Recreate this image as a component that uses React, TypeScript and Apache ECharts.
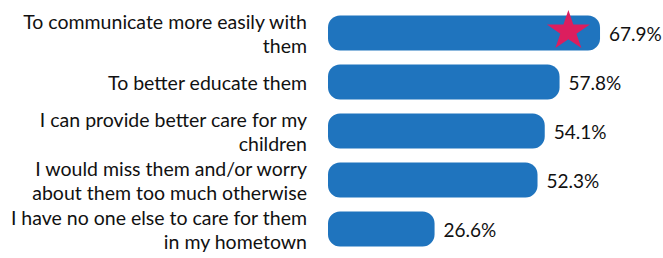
import React, { useEffect, useRef } from "react";
import * as echarts from "echarts";

const categories = [
  "To communicate more easily with\nthem",
  "To better educate them",
  "I can provide better care for my\nchildren",
  "I would miss them and/or worry\nabout them too much otherwise",
  "I have no one else to care for them\nin my hometown",
];
const values = [67.9, 57.8, 54.1, 52.3, 26.6];
const starPoint = [[60.0, 0]];

const STAR = "path://M50,0 L61,35 L98,35 L68,57 L79,91 L50,70 L21,91 L32,57 L2,35 L39,35 Z";

export default function App() {
  const ref = useRef<HTMLDivElement>(null);
  useEffect(() => {
    const chart = echarts.init(ref.current!, undefined, { renderer: "svg" });
    chart.setOption({
      animation: false,
      grid: { left: 328, right: 14.5, top: 8.5, bottom: 4.5, containLabel: false },
      xAxis: { type: "value", min: 0, max: 80, show: false },
      yAxis: {
        type: "category",
        data: categories,
        inverse: true,
        axisLine: { show: false },
        axisTick: { show: false },
        splitLine: { show: false },
        axisLabel: {
          margin: 21,
          align: "right",
          fontFamily: "Lato",
          fontSize: 19.5,
          lineHeight: 24,
          color: "#111",
        },
      },
      series: [
        {
          type: "bar",
          data: values,
          barWidth: 35,
          itemStyle: { color: "#1F74BE", borderRadius: 12 },
          label: {
            show: true,
            position: "right",
            distance: 9,
            fontFamily: "Lato",
            fontSize: 19,
            color: "#111",
            formatter: (p: any) => p.value.toFixed(1) + "%",
          },
        },
        {
          type: "scatter",
          data: starPoint,
          symbol: STAR,
          symbolSize: [43, 38],
          symbolOffset: [0, -4],
          itemStyle: { color: "#DC1E5E", opacity: 1 },
          z: 5,
        },
      ],
    });
    return () => chart.dispose();
  }, []);
  return (
    <div
      ref={ref}
      style={{ position: "fixed", left: 0, top: 0, width: 663, height: 258, background: "#fff" }}
    />
  );
}
